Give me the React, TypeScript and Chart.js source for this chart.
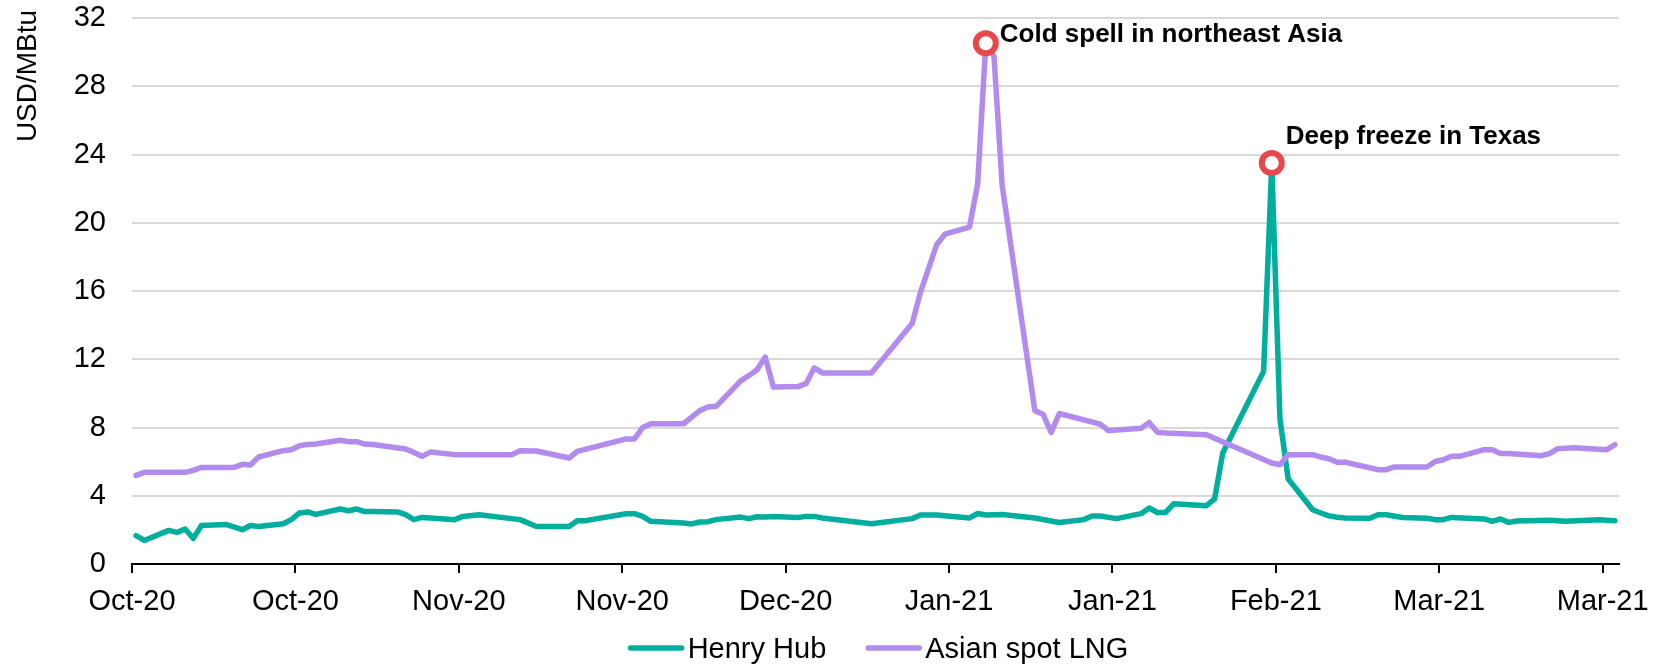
import React, { useEffect, useRef } from "react";
import { Chart, registerables } from "chart.js";

Chart.register(...registerables);

// ---------- DATA ----------
const START_DATE = "2020-10-01";
const END_DATE = "2021-04-01";

const tickDates = [
  "2020-10-01", "2020-10-21", "2020-11-10", "2020-11-30", "2020-12-20",
  "2021-01-09", "2021-01-29", "2021-02-18", "2021-03-10", "2021-03-30",
];
const tickLabels = [
  "Oct-20", "Oct-20", "Nov-20", "Nov-20", "Dec-20",
  "Jan-21", "Jan-21", "Feb-21", "Mar-21", "Mar-21",
];

const yMin = 0;
const yMax = 32;
const yStep = 4;
const yTitle = "USD/MBtu";

const henryHubLabel = "Henry Hub";
const henryHubDates = [
  "2020-10-01", "2020-10-02", "2020-10-05", "2020-10-06", "2020-10-07", "2020-10-08", "2020-10-09",
  "2020-10-12", "2020-10-14", "2020-10-15", "2020-10-16", "2020-10-19", "2020-10-20", "2020-10-21",
  "2020-10-22", "2020-10-23", "2020-10-26", "2020-10-27", "2020-10-28", "2020-10-29", "2020-10-30",
  "2020-11-02", "2020-11-03", "2020-11-04", "2020-11-05", "2020-11-06", "2020-11-09", "2020-11-10",
  "2020-11-12", "2020-11-17", "2020-11-19", "2020-11-23", "2020-11-24", "2020-11-25", "2020-11-30",
  "2020-12-01", "2020-12-02", "2020-12-03", "2020-12-07", "2020-12-08", "2020-12-09", "2020-12-10",
  "2020-12-11", "2020-12-14", "2020-12-15", "2020-12-16", "2020-12-17", "2020-12-18", "2020-12-21",
  "2020-12-22", "2020-12-23", "2020-12-24", "2020-12-30", "2021-01-04", "2021-01-05", "2021-01-07",
  "2021-01-11", "2021-01-12", "2021-01-13", "2021-01-15", "2021-01-19", "2021-01-22", "2021-01-25",
  "2021-01-26", "2021-01-27", "2021-01-29", "2021-02-01", "2021-02-02", "2021-02-03", "2021-02-04",
  "2021-02-05", "2021-02-09", "2021-02-10", "2021-02-11", "2021-02-16", "2021-02-17", "2021-02-18",
  "2021-02-19", "2021-02-22", "2021-02-23", "2021-02-24", "2021-02-25", "2021-02-26", "2021-03-01",
  "2021-03-02", "2021-03-03", "2021-03-05", "2021-03-08", "2021-03-09", "2021-03-10", "2021-03-11",
  "2021-03-15", "2021-03-16", "2021-03-17", "2021-03-18", "2021-03-19", "2021-03-23", "2021-03-25",
  "2021-03-29", "2021-03-31",
];
const henryHubValues = [
  1.66, 1.38, 1.97, 1.85, 2.05, 1.5, 2.26,
  2.32, 2.01, 2.26, 2.2, 2.36, 2.6, 2.99,
  3.05, 2.91, 3.22, 3.12, 3.22, 3.07, 3.07,
  3.05, 2.89, 2.6, 2.73, 2.7, 2.6, 2.79,
  2.89, 2.6, 2.2, 2.2, 2.54, 2.54, 2.95,
  2.95, 2.79, 2.5, 2.4, 2.35, 2.46, 2.48,
  2.6, 2.75, 2.66, 2.77, 2.75, 2.79, 2.72,
  2.79, 2.79, 2.7, 2.36, 2.66, 2.87, 2.87,
  2.7, 2.96, 2.87, 2.9, 2.7, 2.43, 2.6,
  2.81, 2.81, 2.66, 2.95, 3.28, 3.02, 3.02,
  3.53, 3.42, 3.81, 6.5, 11.29, 23.5, 8.5,
  5.0, 3.18, 2.99, 2.82, 2.74, 2.7, 2.68,
  2.89, 2.89, 2.73, 2.68, 2.6, 2.6, 2.73,
  2.64, 2.5, 2.64, 2.44, 2.52, 2.56, 2.5,
  2.6, 2.54,
];

const lngLabel = "Asian spot LNG";
const lngDates = [
  "2020-10-01", "2020-10-02", "2020-10-07", "2020-10-08", "2020-10-09", "2020-10-13", "2020-10-14",
  "2020-10-15", "2020-10-16", "2020-10-19", "2020-10-20", "2020-10-21", "2020-10-22", "2020-10-23",
  "2020-10-26", "2020-10-27", "2020-10-28", "2020-10-29", "2020-10-30", "2020-11-03", "2020-11-04",
  "2020-11-05", "2020-11-06", "2020-11-09", "2020-11-16", "2020-11-17", "2020-11-19", "2020-11-23",
  "2020-11-24", "2020-11-30", "2020-12-01", "2020-12-02", "2020-12-03", "2020-12-07", "2020-12-09",
  "2020-12-10", "2020-12-11", "2020-12-14", "2020-12-15", "2020-12-16", "2020-12-17", "2020-12-18",
  "2020-12-21", "2020-12-22", "2020-12-23", "2020-12-24", "2020-12-30", "2021-01-04", "2021-01-05",
  "2021-01-07", "2021-01-08", "2021-01-11", "2021-01-12", "2021-01-13", "2021-01-14", "2021-01-15",
  "2021-01-19", "2021-01-20", "2021-01-21", "2021-01-22", "2021-01-27", "2021-01-28", "2021-01-29",
  "2021-02-01", "2021-02-02", "2021-02-03", "2021-02-04", "2021-02-09", "2021-02-17", "2021-02-18",
  "2021-02-19", "2021-02-22", "2021-02-23", "2021-02-24", "2021-02-25", "2021-02-26", "2021-03-02",
  "2021-03-03", "2021-03-04", "2021-03-08", "2021-03-09", "2021-03-10", "2021-03-11", "2021-03-12",
  "2021-03-15", "2021-03-16", "2021-03-17", "2021-03-18", "2021-03-22", "2021-03-23", "2021-03-24",
  "2021-03-26", "2021-03-30", "2021-03-31",
];
const lngValues = [
  5.19, 5.37, 5.37, 5.49, 5.66, 5.66, 5.84,
  5.8, 6.27, 6.64, 6.7, 6.93, 7.01, 7.03,
  7.25, 7.17, 7.17, 7.03, 7.0, 6.74, 6.54,
  6.31, 6.56, 6.41, 6.41, 6.64, 6.62, 6.21,
  6.6, 7.33, 7.33, 8.0, 8.22, 8.22, 8.99,
  9.2, 9.24, 10.73, 11.04, 11.39, 12.13, 10.37,
  10.4, 10.57, 11.49, 11.2, 11.2, 14.11, 15.92,
  18.73, 19.33, 19.75, 22.25, 30.52, 29.77, 22.2,
  8.99, 8.78, 7.71, 8.82, 8.2, 7.82, 7.86,
  7.95, 8.3, 7.72, 7.68, 7.58, 5.92, 5.82,
  6.41, 6.41, 6.27, 6.17, 5.96, 5.96, 5.53,
  5.53, 5.69, 5.69, 6.01, 6.11, 6.31, 6.31,
  6.7, 6.7, 6.47, 6.47, 6.35, 6.47, 6.76,
  6.82, 6.7, 6.99,
];

const annotationSeries = ["lng", "henryHub"];
const annotationDates = ["2021-01-13", "2021-02-17"];
const annotationTexts = ["Cold spell in northeast Asia", "Deep freeze in Texas"];

// ---------- STYLE ----------
const FONT = "'Liberation Sans', Arial, Helvetica, sans-serif";
const FONT_SIZE = 29;
const TEAL = "#00AE9E";
const PURPLE = "#B38AEE";
const RED = "#E8474B";
const GRID = "#D9D9D9";
const LINE_W = 5.5;
const annotationOffsets = [
  { dx: 14, dy: -1 },
  { dx: 14, dy: -19 },
];

const DAY_MS = 86400000;
const dayOf = (s: string) =>
  (Date.parse(s + "T00:00:00Z") - Date.parse(START_DATE + "T00:00:00Z")) / DAY_MS;
// points sit in the middle of their day
const toPoints = (dates: string[], values: number[]) =>
  dates.map((d, i) => ({ x: dayOf(d) + 0.5, y: values[i] }));

const seriesLookup: Record<string, { dates: string[]; values: number[] }> = {
  henryHub: { dates: henryHubDates, values: henryHubValues },
  lng: { dates: lngDates, values: lngValues },
};

const annotationPoints = annotationDates.map((d, i) => {
  const s = seriesLookup[annotationSeries[i]];
  const idx = s.dates.indexOf(d);
  return { x: dayOf(d) + 0.5, y: s.values[idx] };
});

const legendItems = [
  { text: henryHubLabel, color: TEAL },
  { text: lngLabel, color: PURPLE },
];

const overlayPlugin = {
  id: "overlay",
  afterDraw(chart: any) {
    const { ctx, chartArea, scales } = chart;
    const xs = scales.x;
    const ys = scales.y;
    ctx.save();
    // Y axis title
    ctx.fillStyle = "#000";
    ctx.font = `28px ${FONT}`;
    ctx.textBaseline = "alphabetic";
    ctx.textAlign = "center";
    ctx.translate(36, 76);
    ctx.rotate(-Math.PI / 2);
    ctx.fillText(yTitle, 0, 0);
    ctx.restore();

    // annotations
    ctx.save();
    ctx.font = `bold 26px ${FONT}`;
    ctx.fillStyle = "#000";
    ctx.textAlign = "left";
    ctx.textBaseline = "alphabetic";
    annotationPoints.forEach((p, i) => {
      const px = xs.getPixelForValue(p.x);
      const py = ys.getPixelForValue(p.y);
      ctx.fillText(annotationTexts[i], px + annotationOffsets[i].dx, py + annotationOffsets[i].dy);
    });
    ctx.restore();

    // legend
    ctx.save();
    ctx.font = `${FONT_SIZE}px ${FONT}`;
    const sample = 55;
    const gap = 4;
    const between = 40;
    const widths = legendItems.map((it) => sample + gap + ctx.measureText(it.text).width);
    const total = widths.reduce((a, b) => a + b, 0) + between * (legendItems.length - 1);
    let x = (chartArea.left + chartArea.right) / 2 + 3 - total / 2;
    const yLine = 648;
    legendItems.forEach((it, i) => {
      ctx.strokeStyle = it.color;
      ctx.lineWidth = LINE_W;
      ctx.lineCap = "round";
      ctx.beginPath();
      ctx.moveTo(x + 2, yLine);
      ctx.lineTo(x + sample - 2, yLine);
      ctx.stroke();
      ctx.fillStyle = "#000";
      ctx.textAlign = "left";
      ctx.textBaseline = "alphabetic";
      ctx.fillText(it.text, x + sample + gap, yLine + 10);
      x += widths[i] + between;
    });
    ctx.restore();
  },
};

export default function App() {
  const canvasRef = useRef<HTMLCanvasElement | null>(null);

  useEffect(() => {
    document.body.style.margin = "0";
    const canvas = canvasRef.current;
    if (!canvas) return;
    Chart.defaults.font.family = FONT;
    Chart.defaults.font.size = FONT_SIZE;
    Chart.defaults.color = "#000";

    const tickDays = tickDates.map(dayOf);

    const chart = new Chart(canvas, {
      type: "line",
      data: {
        datasets: [
          {
            label: "peaks",
            data: annotationPoints,
            showLine: false,
            pointRadius: 10,
            pointBorderWidth: 6,
            pointBorderColor: RED,
            pointBackgroundColor: "#FFFFFF",
            order: 0,
          },
          {
            label: lngLabel,
            data: toPoints(lngDates, lngValues),
            borderColor: PURPLE,
            backgroundColor: PURPLE,
            borderWidth: LINE_W,
            pointRadius: 0,
            tension: 0,
            borderJoinStyle: "round",
            borderCapStyle: "round",
            order: 1,
          },
          {
            label: henryHubLabel,
            data: toPoints(henryHubDates, henryHubValues),
            borderColor: TEAL,
            backgroundColor: TEAL,
            borderWidth: LINE_W,
            pointRadius: 0,
            tension: 0,
            borderJoinStyle: "round",
            borderCapStyle: "round",
            order: 2,
          },
        ] as any,
      },
      options: {
        responsive: false,
        animation: false,
        events: [],
        layout: { padding: { top: 18, right: 44, bottom: 40, left: 0 } },
        plugins: {
          legend: { display: false },
          tooltip: { enabled: false },
        },
        scales: {
          x: {
            type: "linear",
            min: 0,
            max: dayOf(END_DATE),
            afterBuildTicks: (s: any) => {
              s.ticks = tickDays.map((v) => ({ value: v }));
            },
            afterFit: (s: any) => {
              s.height = 60;
              s.paddingLeft = 0;
              s.paddingRight = 0;
            },
            ticks: {
              autoSkip: false,
              maxRotation: 0,
              minRotation: 0,
              padding: 12,
              color: "#000",
              font: { size: FONT_SIZE, family: FONT },
              callback: (_v: any, i: number) => tickLabels[i],
            },
            grid: {
              drawOnChartArea: false,
              drawTicks: true,
              tickLength: 9,
              color: "#000",
              lineWidth: 2,
            },
            border: { display: true, color: "#000", width: 2 },
          },
          y: {
            min: yMin,
            max: yMax,
            afterFit: (s: any) => {
              s.width = 132;
              s.paddingTop = 0;
              s.paddingBottom = 0;
            },
            ticks: {
              stepSize: yStep,
              padding: 26,
              color: "#000",
              font: { size: FONT_SIZE, family: FONT },
            },
            grid: { color: GRID, lineWidth: 2, drawTicks: false },
            border: { display: false },
          },
        },
      } as any,
      plugins: [overlayPlugin],
    });

    return () => chart.destroy();
  }, []);

  return (
    <div style={{ width: 1663, height: 664, background: "#fff" }}>
      <canvas ref={canvasRef} width={1663} height={664} style={{ display: "block" }} />
    </div>
  );
}
